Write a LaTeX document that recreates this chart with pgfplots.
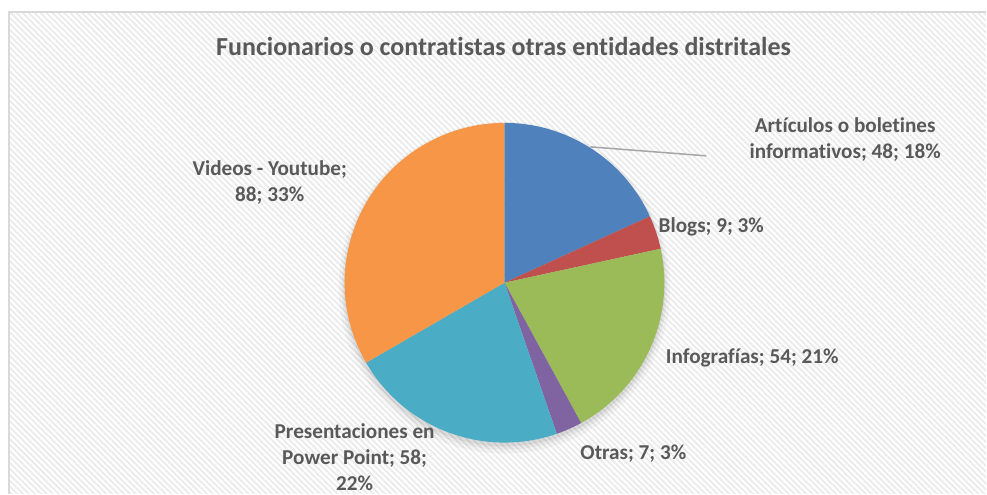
\documentclass[border=0pt]{standalone}
\usepackage{fontspec}
\setmainfont{Carlito}[RawFeature={-liga;-clig;-dlig;-calt}]
\usepackage{pgfplots}
\usepackage{pgfplotstable}
\pgfplotsset{compat=1.18}
\usetikzlibrary{patterns.meta}
\definecolor{cA}{HTML}{4F81BD}
\definecolor{cB}{HTML}{C0504D}
\definecolor{cC}{HTML}{9BBB59}
\definecolor{cD}{HTML}{8064A2}
\definecolor{cE}{HTML}{4BACC6}
\definecolor{cF}{HTML}{F79646}
\definecolor{txt}{HTML}{595959}
\definecolor{stripe}{HTML}{EBEBEB}
\definecolor{frame}{HTML}{D9D9D9}

\pgfplotstableread{
name value
Articulos 48
Blogs 9
Infografias 54
Otras 7
Presentaciones 58
Videos 88
}\piedata

\newcommand\getv[2]{\pgfplotstablegetelem{#1}{value}\of\piedata\global\let#2\pgfplotsretval}
\getv{0}\vA \getv{1}\vB \getv{2}\vC \getv{3}\vD \getv{4}\vE \getv{5}\vF
\pgfmathsetmacro\tot{\vA+\vB+\vC+\vD+\vE+\vF}
\pgfmathsetmacro\aA{90}
\pgfmathsetmacro\aB{\aA-\vA/\tot*360}
\pgfmathsetmacro\aC{\aB-\vB/\tot*360}
\pgfmathsetmacro\aD{\aC-\vC/\tot*360}
\pgfmathsetmacro\aE{\aD-\vD/\tot*360}
\pgfmathsetmacro\aF{\aE-\vE/\tot*360}
\pgfmathsetmacro\aG{\aF-\vF/\tot*360}

\newcommand\slice[3]{\fill[#3] (axis cs:505,211) -- ([shift={(#1:80pt)}]axis cs:505,211) arc[start angle=#1, end angle=#2, radius=80pt] -- cycle;}

\begin{document}
\begin{tikzpicture}
\begin{axis}[
  x=0.5pt, y=0.5pt,
  xmin=0, xmax=987, ymin=0, ymax=494,
  hide axis, clip=false, scale only axis,
]
% background
\fill[white] (axis cs:0,0) rectangle (axis cs:987,494);
\fill[white] (axis cs:9,0) rectangle (axis cs:987,482);
\fill[pattern={Lines[angle=-45,distance=2.1pt,line width=0.9pt]}, pattern color=stripe] (axis cs:9,0) rectangle (axis cs:987,482);
\draw[frame, line width=1pt] (axis cs:9,0) -- (axis cs:9,482) -- (axis cs:987,482);
% shadow
\fill[black, opacity=0.035] (axis cs:505,206) circle[radius=83pt];
\fill[black, opacity=0.045] (axis cs:505,207) circle[radius=81.5pt];
\fill[black, opacity=0.06] (axis cs:505,208) circle[radius=80.5pt];
% slices
\slice{\aA}{\aB}{cA}
\slice{\aB}{\aC}{cB}
\slice{\aC}{\aD}{cC}
\slice{\aD}{\aE}{cD}
\slice{\aE}{\aF}{cE}
\slice{\aF}{\aG}{cF}
% leader
\draw[black!35, line width=0.75pt] (axis cs:591,347) -- (axis cs:707,338);
% labels
\begin{scope}[every node/.style={text=txt, font=\fontsize{10.6}{13}\selectfont\bfseries, align=center, inner sep=0pt}]
\node at (axis cs:846,354) {Artículos o boletines\\informativos; 48; 18\%};
\node at (axis cs:712,267) {Blogs; 9; 3\%};
\node at (axis cs:753,136) {Infografías; 54; 21\%};
\node at (axis cs:634,40) {Otras; 7; 3\%};
\node at (axis cs:355,36) {Presentaciones en\\Power Point; 58;\\22\%};
\node at (axis cs:270,311) {Videos - Youtube;\\88; 33\%};
\end{scope}
\node[text=txt, font=\fontsize{13}{15}\selectfont\bfseries, inner sep=0pt] at (axis cs:504,447) {Funcionarios o contratistas otras entidades distritales};
\end{axis}
\end{tikzpicture}
\end{document}
